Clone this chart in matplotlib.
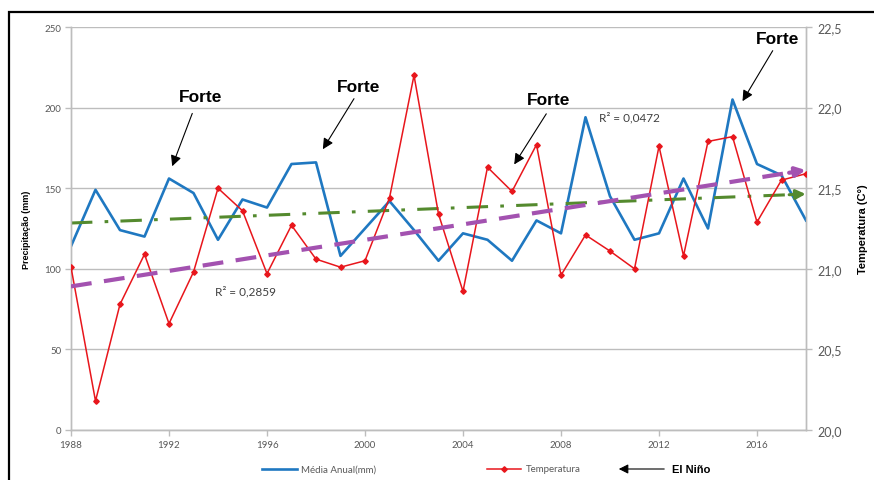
import numpy as np
import matplotlib
matplotlib.use("Agg")
import matplotlib.pyplot as plt
from matplotlib.lines import Line2D
from matplotlib.patches import Rectangle, FancyArrowPatch

# data
years = np.arange(1988, 2019)
precip = [114, 149, 124, 120, 156, 147, 118, 143, 138, 165,
          166, 108, 125, 142, 124, 105, 122, 118, 105, 130,
          122, 194, 145, 118, 122, 156, 125, 205, 165, 158, 130]
temp = [21.01, 20.18, 20.78, 21.09, 20.66, 20.98, 21.50, 21.36, 20.97, 21.27,
        21.06, 21.01, 21.05, 21.44, 22.20, 21.34, 20.86, 21.63, 21.48, 21.77,
        20.96, 21.21, 21.11, 21.00, 21.76, 21.08, 21.79, 21.82, 21.29, 21.55, 21.59]
xticks = np.arange(1988, 2017, 4)
left_ticks = [0, 50, 100, 150, 200, 250]
right_ticks = [20.0, 20.5, 21.0, 21.5, 22.0, 22.5]
r2_precip = "R² = 0,0472"
r2_temp = "R² = 0,2859"
# "Forte" annotations: (text x, text y, arrow start x, y, arrow tip x, y) in data units
forte = [(1993.27, 207, 1992.99, 198, 1992.09, 162),
         (1999.73, 213, 1999.61, 207, 1998.22, 172.7),
         (2007.50, 205, 2007.46, 197.6, 2006.03, 163.3),
         (2016.82, 243, 2016.70, 236.8, 2015.35, 202.5)]

BLUE = "#1f78c1"
RED = "#e8161c"
GREEN = "#548a2e"
PURPLE = "#a352b0"
GRID = "#bdbdbd"
TICK = "#595959"

fig = plt.figure(figsize=(8.74, 4.81), dpi=100)
ax = fig.add_axes([71/874, 1-431/481, (806-71)/874, (431-28)/481])
ax2 = ax.twinx()

# precipitation
ax.plot(years, precip, color=BLUE, lw=1.9, zorder=3)
# precipitation trend
p = np.polyfit(years, precip, 1)
xe = np.array([1988, 2017.3])
ax.plot(xe, np.polyval(p, xe), color=GREEN, lw=2.2, dashes=[7, 4, 1.2, 4], zorder=4)
ax.annotate("", xy=(2018.1, np.polyval(p, 2018.1)), xytext=(2017.2, np.polyval(p, 2017.2)),
            arrowprops=dict(arrowstyle="-|>", color=GREEN, lw=2.2, mutation_scale=14),
            zorder=4, annotation_clip=False)

# temperature
ax2.plot(years, temp, color=RED, lw=1.1, marker="D", ms=2.8, zorder=3)
q = np.polyfit(years, temp, 1)
ax2.plot(xe, np.polyval(q, xe), color=PURPLE, lw=3, dashes=[5, 3], zorder=4)
ax2.annotate("", xy=(2018.1, np.polyval(q, 2018.1)), xytext=(2017.2, np.polyval(q, 2017.2)),
             arrowprops=dict(arrowstyle="-|>", color=PURPLE, lw=3, mutation_scale=14),
             zorder=4, annotation_clip=False)

ax.set_xlim(1988, 2018)
ax.set_ylim(0, 250)
ax2.set_ylim(20, 22.5)
ax.set_xticks(xticks)
ax.set_yticks(left_ticks)
ax2.set_yticks(right_ticks)
ax2.set_yticklabels([f"{v:.1f}".replace(".", ",") for v in right_ticks])
ax.grid(axis="y", color=GRID, lw=1)
ax.set_axisbelow(True)
for a in (ax, ax2):
    a.spines["top"].set_visible(False)
    for s in ("left", "right", "bottom"):
        a.spines[s].set_color(GRID)
        a.spines[s].set_linewidth(1)
    a.tick_params(color=GRID, length=4, width=1, labelcolor=TICK)
ax.tick_params(axis="y", labelsize=7, pad=3)
ax.tick_params(axis="x", labelsize=7, pad=3)
ax2.tick_params(axis="y", labelsize=9, pad=4)
for lab in ax.get_xticklabels() + ax.get_yticklabels() + ax2.get_yticklabels():
    lab.set_family("Lato")

ax.set_ylabel("Precipitação (mm)", fontsize=6.5, fontweight="bold", family="Liberation Sans", labelpad=10)
ax2.set_ylabel("Temperatura (C°)", fontsize=8, fontweight="bold", family="Liberation Sans", labelpad=12)

# annotations
for tx, ty, sx, sy, hx, hy in forte:
    ax.text(tx, ty, "Forte", ha="center", va="center", fontsize=12.5, fontweight="bold",
            family="Liberation Sans")
    ax.annotate("", xy=(hx, hy), xytext=(sx, sy),
                arrowprops=dict(arrowstyle="-|>", color="black", lw=0.8, mutation_scale=16))
ax.text(2009.55, 194.5, r2_precip, fontsize=8.5, color="#404040", family="Lato", va="center")
ax.text(1993.89, 86.2, r2_temp, fontsize=8.5, color="#404040", family="Lato", va="center")

# legend drawn below the plot
ly = 1 - 470/481
fig.add_artist(Line2D([262/874, 297/874], [ly, ly], color=BLUE, lw=1.9))
fig.text(301/874, ly, "Média Anual(mm)", fontsize=7, color=TICK, va="center", family="Lato")
fig.add_artist(Line2D([487/874, 521/874], [ly, ly], color=RED, lw=1.1))
fig.add_artist(Line2D([504/874], [ly], color=RED, marker="D", ms=2.8))
fig.text(526/874, ly, "Temperatura", fontsize=7, color=TICK, va="center", family="Lato")
fig.add_artist(FancyArrowPatch((667/874, ly), (616/874, ly),
               transform=fig.transFigure, arrowstyle="-|>", mutation_scale=14,
               color="black", lw=0.8))
fig.text(672/874, ly, "El Niño", fontsize=8, fontweight="bold", va="center", family="Liberation Sans")

# outer frame
fig.add_artist(Rectangle((9/874, -0.05), 1.0, 1.05 - 13/481, transform=fig.transFigure,
                         fill=False, edgecolor="black", lw=1.6))

fig.savefig("out.png", dpi=100)
